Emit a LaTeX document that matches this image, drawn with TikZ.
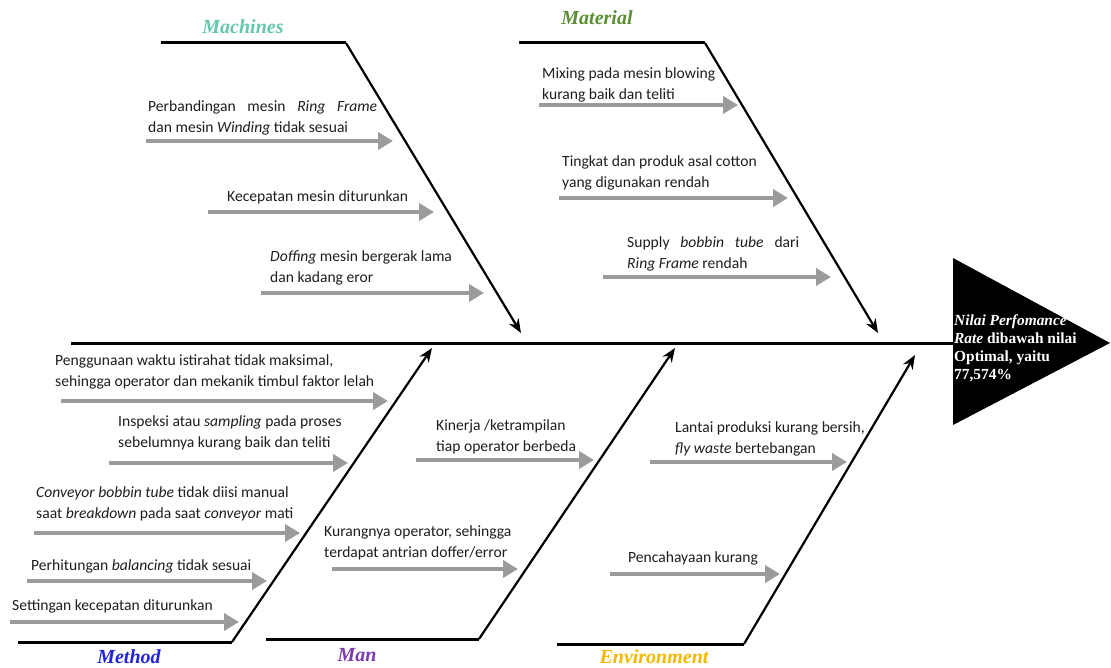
\documentclass[tikz,border=0pt]{standalone}
\usepackage{fontspec}
\setmainfont{Carlito}
\newfontfamily\serifttl{Liberation Serif}
\usetikzlibrary{arrows.meta}
\definecolor{cMach}{HTML}{66C6AE}
\definecolor{cMat}{HTML}{5B8E32}
\definecolor{cMeth}{HTML}{2323E0}
\definecolor{cMan}{HTML}{7A3AB0}
\definecolor{cEnv}{HTML}{F5B800}
\definecolor{cGray}{HTML}{9B9B9B}
\definecolor{cTxt}{HTML}{1E1E1E}
\begin{document}
\begin{tikzpicture}[x=1pt,y=-1pt,
  bone/.style={line width=3pt},
  rib/.style={line width=2.2pt,-{Stealth[length=14pt,width=11pt]}},
  cause/.style={line width=4pt,cGray,-{Triangle[length=15pt,width=17pt]}},
  txt/.style={font=\fontsize{15.6}{21}\selectfont,text=cTxt,inner sep=0pt,anchor=west,align=left},
  ttl/.style={font=\serifttl\bfseries\itshape\fontsize{20}{22}\selectfont,inner sep=0pt}]
\useasboundingbox (0,0) rectangle (1111,668);

% ---------- head ----------
\coordinate (h1) at (953,258);
\coordinate (h2) at (953,425);
\coordinate (h3) at (1110,343);
\fill (h1) -- (h3) -- (h2) -- cycle;
\node[inner sep=0pt,anchor=west,align=left,text=white,
  font=\serifttl\bfseries\fontsize{15.4}{18}\selectfont] (effect) at (954,348)
  {\textit{Nilai Perfomance}\\\textit{Rate} dibawah nilai\\Optimal, yaitu\\77,574\%};

% ---------- spine ----------
\coordinate (s0) at (71,343);
\coordinate (s1) at (953,343);
\draw[bone] (s0) -- (s1);

% ---------- Machines ----------
\coordinate (ma0) at (161,43);
\coordinate (ma1) at (346,43);
\coordinate (ma2) at (521,333);
\draw[bone] (ma0) -- (ma1);
\draw[rib] (ma1) -- (ma2);
\node[ttl,text=cMach] (tMach) at (243,27) {Machines};
\node[txt] (m1) at (148,117.5) {\makebox[229pt][s]{Perbandingan mesin \textit{Ring} \textit{Frame}}\\dan mesin \textit{Winding} tidak sesuai};
\node[txt] (m2) at (227,197) {Kecepatan mesin diturunkan};
\node[txt] (m3) at (270,268) {\textit{Doffing} mesin bergerak lama\\dan kadang eror};
\coordinate (m1a) at (146,141); \coordinate (m1b) at (393,141);
\coordinate (m2a) at (208,212); \coordinate (m2b) at (434,212);
\coordinate (m3a) at (261,293); \coordinate (m3b) at (484,293);
\draw[cause] (m1a) -- (m1b);
\draw[cause] (m2a) -- (m2b);
\draw[cause] (m3a) -- (m3b);

% ---------- Material ----------
\coordinate (mt0) at (519,43);
\coordinate (mt1) at (705,43);
\coordinate (mt2) at (878,333);
\draw[bone] (mt0) -- (mt1);
\draw[rib] (mt1) -- (mt2);
\node[ttl,text=cMat] (tMat) at (597,18) {Material};
\node[txt] (t1) at (542,84.5) {Mixing pada mesin blowing\\kurang baik dan teliti};
\node[txt] (t2) at (562,173) {Tingkat dan produk asal cotton\\yang digunakan rendah};
\node[txt] (t3) at (627,254) {\makebox[172pt][s]{Supply \textit{bobbin} \textit{tube} dari}\\\textit{Ring Frame} rendah};
\coordinate (t1a) at (539,105); \coordinate (t1b) at (738,105);
\coordinate (t2a) at (559,198); \coordinate (t2b) at (788,198);
\coordinate (t3a) at (603,277); \coordinate (t3b) at (831,277);
\draw[cause] (t1a) -- (t1b);
\draw[cause] (t2a) -- (t2b);
\draw[cause] (t3a) -- (t3b);

% ---------- Method ----------
\coordinate (me0) at (18,642);
\coordinate (me1) at (232,642);
\coordinate (me2) at (432,348);
\draw[bone] (me0) -- (me1);
\draw[rib] (me1) -- (me2);
\node[ttl,text=cMeth] (tMeth) at (129,657) {Method};
\node[txt] (d1) at (55,372) {Penggunaan waktu istirahat tidak maksimal,\\sehingga operator dan mekanik timbul faktor lelah};
\node[txt] (d2) at (118,433) {Inspeksi atau \textit{sampling} pada proses\\sebelumnya kurang baik dan teliti};
\node[txt] (d3) at (36,503.5) {\textit{Conveyor bobbin tube} tidak diisi manual\\saat \textit{breakdown} pada saat \textit{conveyor} mati};
\node[txt] (d4) at (31,566) {Perhitungan \textit{balancing} tidak sesuai};
\node[txt] (d5) at (12,606) {Settingan kecepatan diturunkan};
\coordinate (d1a) at (61,401);  \coordinate (d1b) at (388,401);
\coordinate (d2a) at (109,463); \coordinate (d2b) at (348,463);
\coordinate (d3a) at (34,533);  \coordinate (d3b) at (300,533);
\coordinate (d4a) at (27,581);  \coordinate (d4b) at (267,581);
\coordinate (d5a) at (10,622);  \coordinate (d5b) at (239,622);
\draw[cause] (d1a) -- (d1b);
\draw[cause] (d2a) -- (d2b);
\draw[cause] (d3a) -- (d3b);
\draw[cause] (d4a) -- (d4b);
\draw[cause] (d5a) -- (d5b);

% ---------- Man ----------
\coordinate (mn0) at (266,639);
\coordinate (mn1) at (479,639);
\coordinate (mn2) at (675,348);
\draw[bone] (mn0) -- (mn1);
\draw[rib] (mn1) -- (mn2);
\node[ttl,text=cMan] (tMan) at (357,655) {Man};
\node[txt] (n1) at (436,436.5) {Kinerja /ketrampilan\\tiap operator berbeda};
\node[txt] (n2) at (324,542.5) {Kurangnya operator, sehingga\\terdapat antrian doffer/error};
\coordinate (n1a) at (416,460); \coordinate (n1b) at (594,460);
\coordinate (n2a) at (332,569); \coordinate (n2b) at (518,569);
\draw[cause] (n1a) -- (n1b);
\draw[cause] (n2a) -- (n2b);

% ---------- Environment ----------
\coordinate (en0) at (557,644);
\coordinate (en1) at (744,644);
\coordinate (en2) at (915,355);
\draw[bone] (en0) -- (en1);
\draw[rib] (en1) -- (en2);
\node[ttl,text=cEnv] (tEnv) at (654,657) {Environment};
\node[txt] (e1) at (675,438.5) {Lantai produksi kurang bersih,\\\textit{fly waste} bertebangan};
\node[txt] (e2) at (628,558) {Pencahayaan kurang};
\coordinate (e1a) at (650,462); \coordinate (e1b) at (847,462);
\coordinate (e2a) at (610,574); \coordinate (e2b) at (780,574);
\draw[cause] (e1a) -- (e1b);
\draw[cause] (e2a) -- (e2b);
\end{tikzpicture}
\end{document}
